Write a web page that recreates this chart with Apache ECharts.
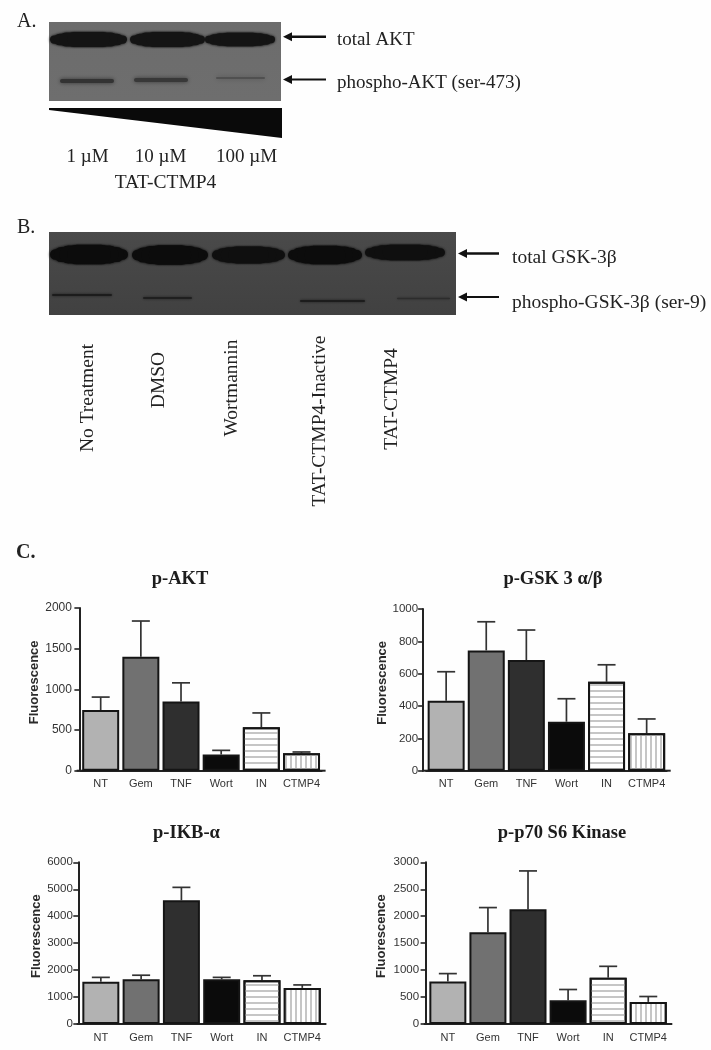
<!DOCTYPE html>
<html><head><meta charset="utf-8">
<style>html,body{margin:0;padding:0;background:#fff}#c{width:711px;height:1050px;filter:blur(0.5px)}</style>
<script src="https://cdn.jsdelivr.net/npm/echarts@6/dist/echarts.min.js"></script>
</head><body><div id="c"></div>
<script>
const categories = ['NT','Gem','TNF','Wort','IN','CTMP4'];
const aktMean = [745,1400,850,200,535,215];
const aktTop = [905,1840,1080,250,710,230];
const gskMean = [433,744,684,303,550,231];
const gskTop = [612,921,870,445,655,320];
const ikbMean = [1570,1660,4590,1660,1620,1340];
const ikbTop = [1730,1810,5070,1730,1790,1450];
const s6Mean = [790,1700,2128,440,860,410];
const s6Top = [935,2160,2840,640,1070,510];
const panelTitles = ['p-AKT','p-GSK 3 α/β','p-IKB-α','p-p70 S6 Kinase'];
const axisMax = [2000,1000,6000,3000];
const axisStep = [500,200,1000,500];
const means = [aktMean,gskMean,ikbMean,s6Mean];
const tops = [aktTop,gskTop,ikbTop,s6Top];
const doseLabels = ['1 µM','10 µM','100 µM'];
const treatmentLabels = ['No Treatment','DMSO','Wortmannin','TAT-CTMP4-Inactive','TAT-CTMP4'];

const layout = [
 {left:80.6, top:608, width:241, height:162.7, off:1.2, tx:180, ty:570, gap:37.5, lm:7.5, fs:12},
 {left:426.1,top:609, width:240.6,height:161.7, off:3, tx:553, ty:570, gap:33.5, lm:5, fs:11.5},
 {left:80.7, top:862.3,width:241.7,height:161.7, off:2.4, tx:186.5, ty:824, gap:34, lm:5.5, fs:11.5},
 {left:427.8,top:862.3,width:240.5,height:161.7, off:2.2, tx:562, ty:824, gap:38, lm:6.5, fs:11.5}
];
const barFills = ['#b2b2b2','#717171','#2f2f2f','#0b0b0b','#ffffff','#ffffff'];
const SERIF = '"Liberation Serif"';
const SANS = '"Liberation Sans"';

const grids=[],xAxes=[],yAxes=[],series=[],titles=[];
layout.forEach((g,i)=>{
  grids.push({left:g.left,top:g.top,width:g.width,height:g.height});
  titles.push({text:panelTitles[i],left:g.tx,top:g.ty,textAlign:'center',padding:0,
    textStyle:{fontFamily:SERIF,fontWeight:'bold',fontSize:18.5,color:'#1c1c1c'}});
  xAxes.push({type:'category',gridIndex:i,data:categories,
    axisTick:{show:false},
    axisLine:{lineStyle:{color:'#222',width:2},symbol:['rect','rect'],symbolSize:[2,8]},
    axisLabel:{fontFamily:SANS,fontSize:11,color:'#333',margin:8,interval:0}});
  yAxes.push({type:'value',gridIndex:i,min:0,max:axisMax[i],interval:axisStep[i],offset:g.off,
    splitLine:{show:false},
    axisLine:{show:true,lineStyle:{color:'#222',width:2}},
    axisTick:{show:true,length:5,lineStyle:{color:'#222',width:1.6}},
    axisLabel:{fontFamily:SANS,fontSize:g.fs,color:'#333',margin:g.lm,formatter:v=>String(v)},
    name:'Fluorescence',nameLocation:'middle',nameGap:g.gap,
    nameTextStyle:{fontFamily:SANS,fontWeight:'bold',fontSize:13,color:'#2a2a2a',padding:[0,0,0,14]}});
  series.push({type:'bar',xAxisIndex:i,yAxisIndex:i,barWidth:37,z:3,
    data:means[i].map((v,k)=>{
      const item={value:v,itemStyle:{color:barFills[k],borderColor:'#151515',borderWidth:2}};
      if(k===4) item.itemStyle.decal={symbol:'rect',symbolSize:1,dashArrayX:[1,0],dashArrayY:[2,3.5],color:'#c6c6c6',rotation:0};
      if(k===5) item.itemStyle.decal={symbol:'rect',symbolSize:1,dashArrayX:[1.5,3],dashArrayY:[1,0],color:'#c6c6c6',rotation:0};
      return item;
    })});
  series.push({type:'custom',xAxisIndex:i,yAxisIndex:i,z:2,
    data:tops[i].map((t,k)=>[k,means[i][k],t]),
    encode:{x:0,y:[1,2]},
    renderItem:(params,api)=>{
      const a=api.coord([api.value(0),api.value(1)]);
      const b=api.coord([api.value(0),api.value(2)]);
      const st={stroke:'#333',lineWidth:1.7,fill:null};
      return {type:'group',children:[
        {type:'line',shape:{x1:a[0],y1:a[1],x2:a[0],y2:b[1]},style:st},
        {type:'line',shape:{x1:a[0]-9,y1:b[1],x2:a[0]+9,y2:b[1]},style:st}
      ]};
    }});
});

// gel panels and annotation
const els=[];
function txt(text,x,y,size,opt){opt=opt||{};
  els.push({type:'text',x:x,y:y,rotation:opt.rot||0,z:10,style:{text:text,fill:opt.fill||'#222',
    font:(opt.bold?'bold ':'')+size+'px '+SERIF,textAlign:opt.align||'left',textVerticalAlign:'middle'}});}
function rr(x1,x2,yc,h,col,blur){
  els.push({type:'rect',z:6,shape:{x:x1,y:yc-h/2,width:x2-x1,height:h,r:h/2},
    style:{fill:col,shadowBlur:blur,shadowColor:col}});}
function band(x1,x2,yc,h,col){
  const w=x2-x1;
  rr(x1,x2,yc,h*0.55,col,3);
  rr(x1+w*0.05,x2-w*0.05,yc,h*0.78,col,3);
  rr(x1+w*0.12,x2-w*0.12,yc,h*0.92,col,3);
  rr(x1+w*0.22,x2-w*0.22,yc,h,col,2);
}
function arrow(x1,x2,y,t,hw){
  els.push({type:'line',z:6,shape:{x1:x1+6,y1:y,x2:x2,y2:y},style:{stroke:'#111',lineWidth:t}});
  els.push({type:'polygon',z:6,shape:{points:[[x1,y],[x1+9,y-hw],[x1+9,y+hw]]},style:{fill:'#111'}});}
function panel(x,y,w,h,c1,c2){
  els.push({type:'rect',z:5,shape:{x:x,y:y,width:w,height:h},
    style:{fill:{type:'linear',x:0,y:0,x2:0,y2:1,colorStops:[{offset:0,color:c1},{offset:1,color:c2}]}}});}

txt('A.',17,22,20);
panel(49,22,232,79,'#6c6c6c','#6e6e6e');
band(50,127,39.5,15,'#141414');band(130,205,39.5,15,'#141414');band(205,275,39.5,13.5,'#141414');
rr(60,114,81,4,'#333333',4);rr(134,188,80,4,'#383838',4);rr(216,265,78,2,'#505050',5);
arrow(283,326,36.7,2.6,4.5);arrow(283,326,79.5,1.8,4.5);
txt('total AKT',337,40,19);txt('phospho-AKT (ser-473)',337,83,19);
els.push({type:'polygon',z:6,shape:{points:[[49,108],[282,108],[282,138],[49,110]]},style:{fill:'#0a0a0a'}});
txt(doseLabels[0],87.5,157,19,{align:'center'});
txt(doseLabels[1],160.5,157,19,{align:'center'});
txt(doseLabels[2],246.5,157,19,{align:'center'});
txt('TAT-CTMP4',165.5,183,19.5,{align:'center'});

txt('B.',17,228,20);
panel(49,232,407,83,'#4a4a4a','#414141');
band(50,128,254.5,19.5,'#0c0c0c');band(132,208,255,19.5,'#0c0c0c');band(212,285,255,17,'#0f0f0f');
band(288,362,255,18.5,'#0c0c0c');band(365,445,252.5,15.5,'#0f0f0f');
rr(52,112,295,2,'#1c1c1c',3);rr(143,192,298,2,'#1f1f1f',3);rr(300,365,301,2,'#1c1c1c',3);rr(397,450,298.5,1.5,'#2c2c2c',3);
arrow(458,499,253.5,2.6,4.5);arrow(458,499,297,1.8,4.5);
txt('total GSK-3β',512,258,19.5);txt('phospho-GSK-3β (ser-9)',512,303,19.5);

const lx=[88,159,232,320,392], ly=[398,380,388,421,399];
treatmentLabels.forEach((t,i)=>txt(t,lx[i],ly[i],19.5,{rot:Math.PI/2,align:'center'}));

txt('C.',16,553,20,{bold:true});

const chart=echarts.init(document.getElementById('c'),null,{renderer:'canvas'});
chart.setOption({animation:false,backgroundColor:'#fefefe',title:titles,grid:grids,xAxis:xAxes,yAxis:yAxes,series:series,
  graphic:{elements:els}});
</script></body></html>
